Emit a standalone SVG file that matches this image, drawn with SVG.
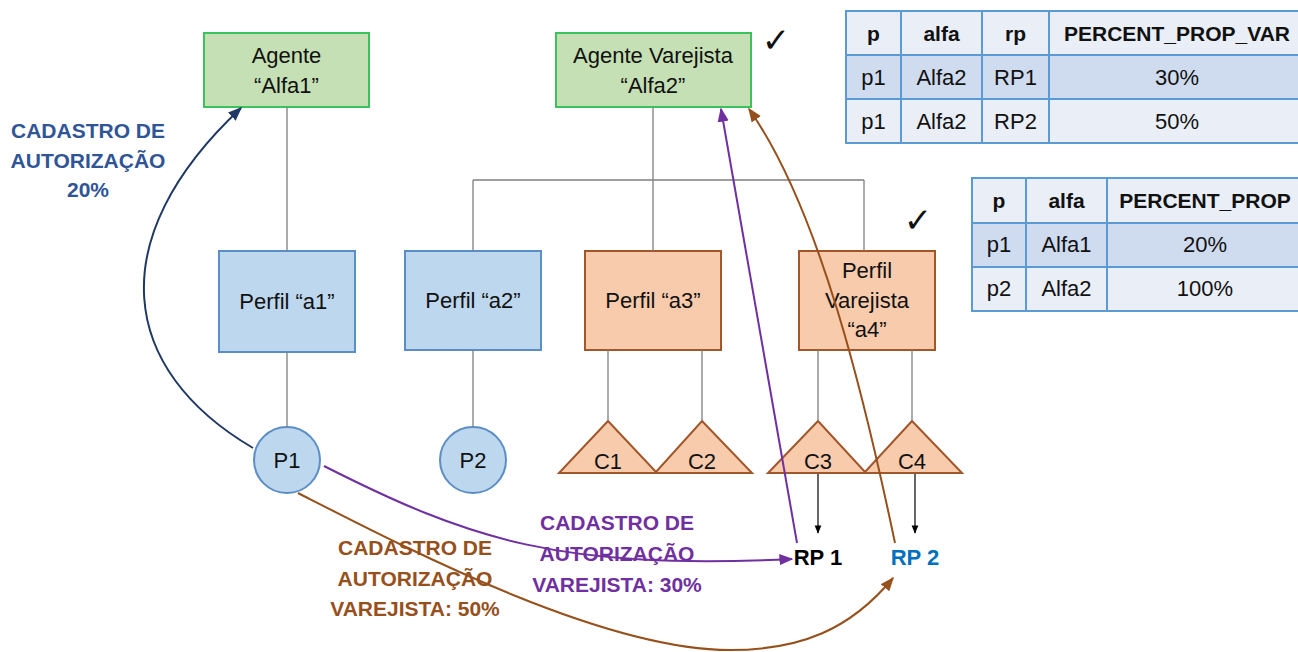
<svg xmlns="http://www.w3.org/2000/svg" width="1298" height="652" viewBox="0 0 1298 652">
<style>
text{font-family:"Liberation Sans",Arial,sans-serif;fill:#111}
.n{font-size:22px;text-anchor:middle}
.g rect{fill:#c5e0b4;stroke:#3cc25a;stroke-width:2}
.b rect,.b circle{fill:#bdd7ee;stroke:#5b8ec4;stroke-width:2}
.o rect,.o polygon{fill:#f8cbad;stroke:#a0572a;stroke-width:2}
.ln{stroke:#7f7f7f;stroke-width:1.3;fill:none}
.lbl{font-size:21px;font-weight:bold;text-anchor:middle}
.tb{font-size:22px;text-anchor:middle}
.th{font-weight:bold;font-size:21px}
.cell{stroke:#5b9bd5;stroke-width:2}
.chk{font-family:"DejaVu Sans",sans-serif;font-size:34px;font-weight:bold;text-anchor:middle}
</style>
<defs>
<marker id="aN" viewBox="0 0 10 10" refX="9" refY="5" markerWidth="7" markerHeight="7" orient="auto"><path d="M0,1 L10,5 L0,9 z" fill="#1f3864"/></marker>
<marker id="aP" viewBox="0 0 10 10" refX="9" refY="5" markerWidth="7" markerHeight="7" orient="auto"><path d="M0,1 L10,5 L0,9 z" fill="#7030a0"/></marker>
<marker id="aB" viewBox="0 0 10 10" refX="9" refY="5" markerWidth="7" markerHeight="7" orient="auto"><path d="M0,1 L10,5 L0,9 z" fill="#96501c"/></marker>
<marker id="aK" viewBox="0 0 10 10" refX="9" refY="5" markerWidth="7" markerHeight="7" orient="auto"><path d="M0,1 L10,5 L0,9 z" fill="#000"/></marker>
</defs>

<g id="agente-alfa1" class="g"><rect x="204" y="33" width="165" height="74"/><text class="n" x="286.5" y="63">Agente</text><text class="n" x="286.5" y="93">“Alfa1”</text></g>
<g id="agente-alfa2" class="g"><rect x="556" y="33" width="195" height="74"/><text class="n" x="653" y="63">Agente Varejista</text><text class="n" x="653" y="93">“Alfa2”</text></g>
<g id="perfil-a1" class="b"><rect x="219" y="251" width="136" height="101"/><text class="n" x="287" y="309">Perfil “a1”</text></g>
<g id="perfil-a2" class="b"><rect x="405" y="251" width="136" height="99"/><text class="n" x="473" y="308">Perfil “a2”</text></g>
<g id="perfil-a3" class="o"><rect x="585" y="251" width="136" height="99"/><text class="n" x="653" y="308">Perfil “a3”</text></g>
<g id="perfil-a4" class="o"><rect x="799" y="251" width="136" height="99"/><text class="n" x="867" y="278">Perfil</text><text class="n" x="867" y="308">Varejista</text><text class="n" x="867" y="337">“a4”</text></g>
<g id="p1" class="b"><circle cx="287" cy="460" r="33"/><text class="n" x="287" y="468">P1</text></g>
<g id="p2" class="b"><circle cx="473" cy="460" r="33"/><text class="n" x="473" y="468">P2</text></g>
<g id="c1" class="o"><polygon points="608,421 657,473 559,473"/><text class="n" x="608" y="469">C1</text></g>
<g id="c2" class="o"><polygon points="702,421 752,473 655,473"/><text class="n" x="702" y="469">C2</text></g>
<g id="c3" class="o"><polygon points="818,421 866,473 768,473"/><text class="n" x="818" y="469">C3</text></g>
<g id="c4" class="o"><polygon points="912,421 962,473 864,473"/><text class="n" x="912" y="469">C4</text></g>
<g id="rp1"><text class="lbl" x="818" y="565" style="font-size:22px;fill:#000">RP 1</text></g>
<g id="rp2"><text class="lbl" x="915" y="565" style="font-size:22px;fill:#0070c0">RP 2</text></g>

<g id="labels">
<text class="lbl" x="88" y="138" style="fill:#2f5597">CADASTRO DE</text>
<text class="lbl" x="88" y="168" style="fill:#2f5597">AUTORIZAÇÃO</text>
<text class="lbl" x="88" y="197" style="fill:#2f5597">20%</text>
<text class="lbl" x="617" y="530" style="fill:#7030a0">CADASTRO DE</text>
<text class="lbl" x="617" y="561" style="fill:#7030a0">AUTORIZAÇÃO</text>
<text class="lbl" x="617" y="592" style="fill:#7030a0">VAREJISTA: 30%</text>
<text class="lbl" x="415" y="555" style="fill:#96501c">CADASTRO DE</text>
<text class="lbl" x="415" y="586" style="fill:#96501c">AUTORIZAÇÃO</text>
<text class="lbl" x="415" y="616" style="fill:#96501c">VAREJISTA: 50%</text>
<text class="chk" x="776" y="52">✓</text>
<text class="chk" x="918" y="232">✓</text>
</g>

<g id="table-var">
<rect class="cell" x="846" y="11" width="460" height="44" fill="#e9eef7"/>
<rect class="cell" x="846" y="55" width="460" height="44" fill="#cfdbef"/>
<rect class="cell" x="846" y="99" width="460" height="44" fill="#e9eef7"/>
<path class="cell" d="M901,11 V143 M982,11 V143 M1049,11 V143"/>
<text class="tb th" x="873.5" y="41">p</text><text class="tb th" x="941.5" y="41">alfa</text><text class="tb th" x="1015.5" y="41">rp</text><text class="tb th" x="1177" y="41">PERCENT_PROP_VAR</text>
<text class="tb" x="873.5" y="85">p1</text><text class="tb" x="941.5" y="85">Alfa2</text><text class="tb" x="1015.5" y="85">RP1</text><text class="tb" x="1177" y="85">30%</text>
<text class="tb" x="873.5" y="129">p1</text><text class="tb" x="941.5" y="129">Alfa2</text><text class="tb" x="1015.5" y="129">RP2</text><text class="tb" x="1177" y="129">50%</text>
</g>

<g id="table-prop">
<rect class="cell" x="972" y="178" width="332" height="45" fill="#e9eef7"/>
<rect class="cell" x="972" y="223" width="332" height="44" fill="#cfdbef"/>
<rect class="cell" x="972" y="267" width="332" height="44" fill="#e9eef7"/>
<path class="cell" d="M1026,178 V311 M1107,178 V311"/>
<text class="tb th" x="999" y="208">p</text><text class="tb th" x="1066.5" y="208">alfa</text><text class="tb th" x="1205" y="208">PERCENT_PROP</text>
<text class="tb" x="999" y="252">p1</text><text class="tb" x="1066.5" y="252">Alfa1</text><text class="tb" x="1205" y="252">20%</text>
<text class="tb" x="999" y="296">p2</text><text class="tb" x="1066.5" y="296">Alfa2</text><text class="tb" x="1205" y="296">100%</text>
</g>

<g id="connectors">
<path class="ln" d="M287,107 V251 M287,352 V427 M653,107 V251 M473,180 H864 M473,180 V251 M864,180 V251 M473,350 V427 M608,350 V421 M702,350 V421 M818,350 V421 M912,350 V421"/>
<path d="M818,474 V533" stroke="#000" stroke-width="1.2" marker-end="url(#aK)"/>
<path d="M915,474 V533" stroke="#000" stroke-width="1.2" marker-end="url(#aK)"/>
<path d="M253,448 C120,370 100,240 241,108" fill="none" stroke="#1f3864" stroke-width="2" marker-end="url(#aN)"/>
<path d="M797,543 L721,109" fill="none" stroke="#7030a0" stroke-width="2" marker-end="url(#aP)"/>
<path d="M895,543 C865,400 820,210 749,109" fill="none" stroke="#96501c" stroke-width="2" marker-end="url(#aB)"/>
<path d="M324,466 C470,540 560,570 792,559" fill="none" stroke="#7030a0" stroke-width="2" marker-end="url(#aP)"/>
<path d="M298,493 C400,545 600,650 730,650 C800,650 850,630 893,578" fill="none" stroke="#96501c" stroke-width="2" marker-end="url(#aB)"/>
</g>
</svg>
